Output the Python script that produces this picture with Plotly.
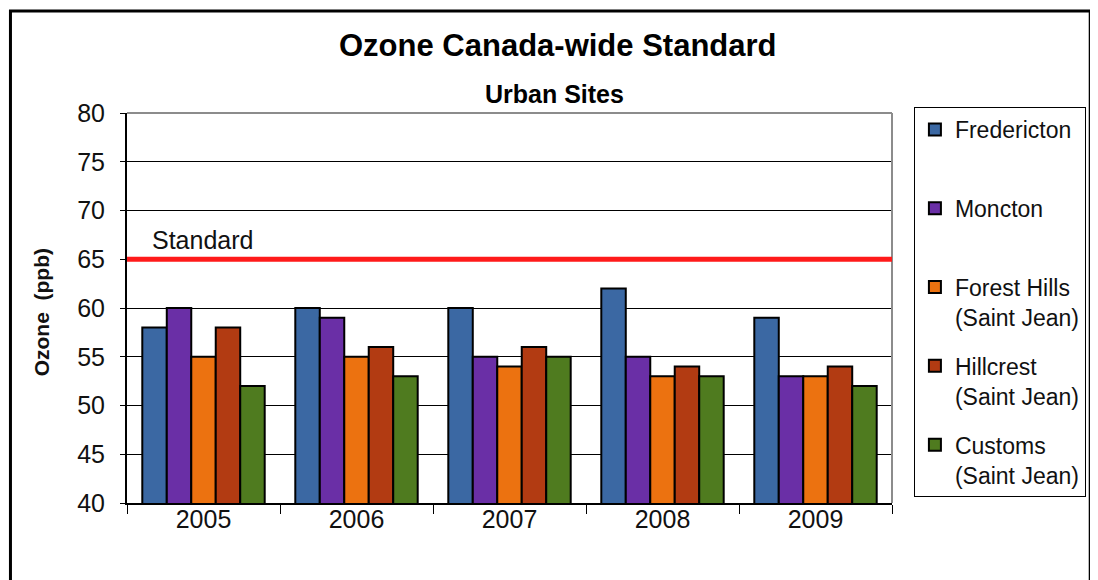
import plotly.graph_objects as go

years = ["2005", "2006", "2007", "2008", "2009"]
series_names = ["Fredericton<br> ", "Moncton<br> ", "Forest Hills<br>(Saint Jean)",
                "Hillcrest<br>(Saint Jean)", "Customs<br>(Saint Jean)"]
fredericton = [58, 60, 60, 62, 59]
moncton = [60, 59, 55, 55, 53]
forest_hills = [55, 55, 54, 53, 53]
hillcrest = [58, 56, 56, 54, 54]
customs = [52, 53, 55, 53, 52]
standard_value = 65
y_ticks = [40, 45, 50, 55, 60, 65, 70, 75, 80]

colors = ["#3B68A3", "#6A2FA6", "#EC7210", "#B23B12", "#4F7B1F"]
values = [fredericton, moncton, forest_hills, hillcrest, customs]

FONT = "Liberation Sans, Arial, sans-serif"

# page offset of 8px (body margin) -> plot area at x 127..895, y 113..503
PL, PR, PT, PB = 127, 895, 113, 503
PW, PH = PR - PL, PB - PT


def px(xp):
    return (xp - PL) / PW


def py(yp):
    return (PB - yp) / PH


fig = go.Figure()
for i, (name, vals, col) in enumerate(zip(series_names, values, colors)):
    fig.add_trace(go.Bar(
        x=years, y=vals, name=name, legendgroup=f"g{i}",
        marker=dict(color=col, line=dict(color="#000000", width=2)),
    ))

# plot area top/right gray border
fig.add_shape(type="line", xref="paper", yref="paper", x0=0, x1=1, y0=1, y1=1,
              line=dict(color="#8C8C8C", width=2), layer="above")
fig.add_shape(type="line", xref="paper", yref="paper", x0=1, x1=1, y0=0, y1=1,
              line=dict(color="#8C8C8C", width=2), layer="above")

# standard line
fig.add_shape(type="line", xref="paper", yref="y", x0=0, x1=1,
              y0=standard_value, y1=standard_value,
              line=dict(color="#FF1A1A", width=5), layer="above")
fig.add_annotation(text="Standard", xref="paper", yref="y", x=px(150), y=standard_value,
                   xanchor="left", yanchor="bottom", showarrow=False, yshift=3,
                   font=dict(family=FONT, size=25, color="#111111"))

# titles
fig.add_annotation(text="<b>Ozone Canada-wide Standard</b>", xref="paper", yref="paper",
                   x=px(560), y=py(46), xanchor="center", yanchor="middle", showarrow=False,
                   font=dict(family=FONT, size=31, color="#000000"))
fig.add_annotation(text="<b>Urban Sites</b>", xref="paper", yref="paper",
                   x=px(556), y=py(94), xanchor="center", yanchor="middle", showarrow=False,
                   font=dict(family=FONT, size=25, color="#000000"))
fig.add_annotation(text="<b>Ozone  (ppb)</b>", xref="paper", yref="paper",
                   x=px(41), y=py(312), xanchor="center", yanchor="middle", showarrow=False,
                   textangle=-90, font=dict(family=FONT, size=21, color="#111111"))

# outer frame
fig.add_shape(type="rect", xref="paper", yref="paper",
              x0=px(10), x1=px(1094), y0=py(620), y1=py(11),
              line=dict(color="#000000", width=3), layer="below")

fig.update_layout(
    width=1090, height=572,
    margin=dict(l=PL - 8, r=1098 - PR, t=PT - 8, b=580 - PB),
    paper_bgcolor="white", plot_bgcolor="white",
    barmode="group", bargap=0.2, bargroupgap=0,
    font=dict(family=FONT, size=25, color="#111111"),
    xaxis=dict(type="category", showline=True, linecolor="#000000", linewidth=2,
               ticks="outside", tickson="boundaries", ticklen=9, tickcolor="#000000",
               ticklabelstandoff=-7,
               tickfont=dict(family=FONT, size=25), showgrid=False),
    yaxis=dict(range=[40, 80], tickvals=y_ticks, showline=True, linecolor="#000000",
               linewidth=2, ticks="outside", ticklen=5, tickcolor="#000000",
               ticklabelstandoff=10,
               showgrid=True, gridcolor="#000000", gridwidth=1,
               tickfont=dict(family=FONT, size=25), zeroline=False),
    legend=dict(x=px(917), y=py(107), xanchor="left", yanchor="top",
                bordercolor="#000000", borderwidth=1, traceorder="grouped",
                tracegroupgap=16, valign="top", maxheight=520,
                font=dict(family=FONT, size=23, color="#111111")),
    showlegend=True,
)

fig.write_html("out.html")
